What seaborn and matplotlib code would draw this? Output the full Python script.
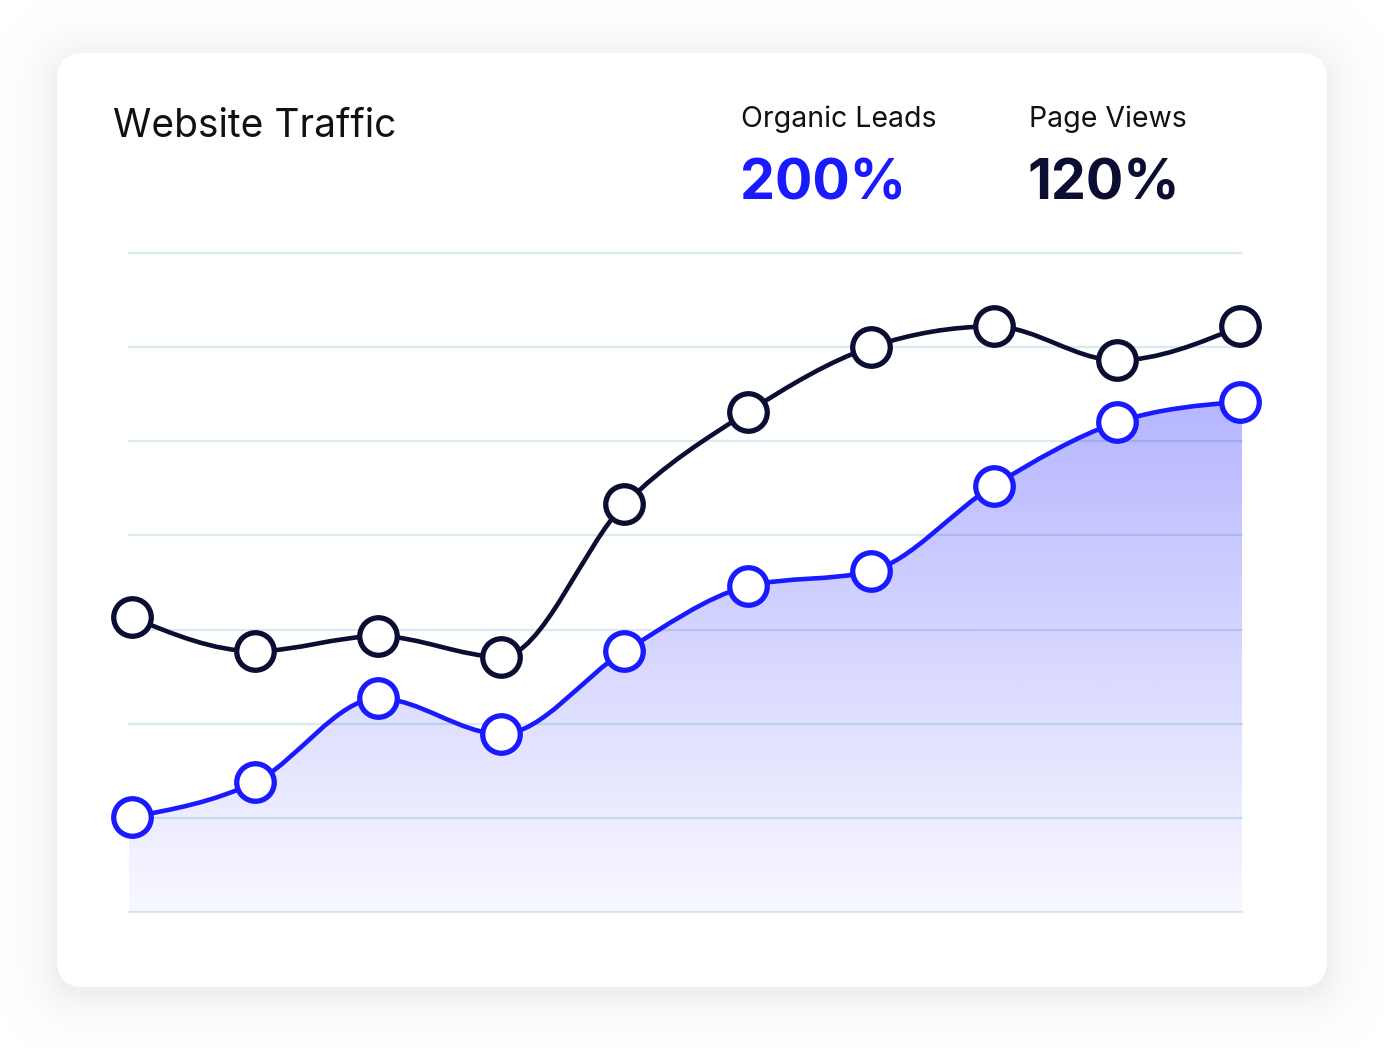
import numpy as np
import matplotlib.pyplot as plt
import seaborn as sns
from matplotlib.path import Path
from matplotlib.patches import PathPatch, FancyBboxPatch

# data (grid units, 0 = bottom gridline)
period = list(range(10))
page_views = [3.13, 2.77, 2.93, 2.71, 4.33, 5.31, 6.00, 6.22, 5.86, 6.22]
organic_leads = [1.01, 1.38, 2.27, 1.89, 2.77, 3.46, 3.62, 4.53, 5.20, 5.42]
grid_levels = list(range(8))

BLUE = "#1a1aff"
NAVY = "#0b0d33"
GRID = "#d8eaf0"


def monotone_path(x, y):
    """Cubic bezier path through the points, monotone-x style."""
    x = np.asarray(x, float)
    y = np.asarray(y, float)
    n = len(x)
    h = np.diff(x)
    s = np.diff(y) / h
    t = np.zeros(n)
    for i in range(1, n - 1):
        p = (s[i - 1] * h[i] + s[i] * h[i - 1]) / (h[i - 1] + h[i])
        t[i] = (np.sign(s[i - 1]) + np.sign(s[i])) * min(abs(s[i - 1]), abs(s[i]), 0.5 * abs(p))
    t[0] = (3 * s[0] - t[1]) / 2
    t[-1] = (3 * s[-1] - t[-2]) / 2
    verts = [(x[0], y[0])]
    codes = [Path.MOVETO]
    for i in range(n - 1):
        dx = h[i] / 3
        verts += [(x[i] + dx, y[i] + dx * t[i]), (x[i + 1] - dx, y[i + 1] - dx * t[i + 1]), (x[i + 1], y[i + 1])]
        codes += [Path.CURVE4] * 3
    return verts, codes


sns.set_style("white")
plt.rcParams['font.family'] = ['Inter', 'DejaVu Sans']

fig = plt.figure(figsize=(13.84, 10.48), dpi=100)

# background: card with soft shadow
bg = fig.add_axes([0, 0, 1, 1])
bg.set_xlim(0, 1384)
bg.set_ylim(1048, 0)
bg.axis('off')
yy, xx = np.mgrid[0:1048, 0:1384] + 0.5
cx, cy, hw, hh, r = 692, 526, 635, 467, 25
qx = np.abs(xx - cx) - (hw - r)
qy = np.abs(yy - cy) - (hh - r)
d = np.hypot(np.maximum(qx, 0), np.maximum(qy, 0)) + np.minimum(np.maximum(qx, qy), 0) - r
shadow = np.zeros((1048, 1384, 4))
shadow[..., :3] = 0.35
shadow[..., 3] = np.where(d > -20, 0.09 * np.exp(-np.clip(d, 0, None) / 22), 0.09)
bg.imshow(shadow, extent=(0, 1384, 1048, 0), zorder=0)
bg.add_patch(FancyBboxPatch((57, 53), 1270, 934, boxstyle="round,pad=0,rounding_size=26",
                            facecolor="white", edgecolor="none", zorder=1))

bg.text(113, 137, "Website Traffic", fontsize=28, color="#111111", va='baseline', zorder=2)
bg.text(741, 127, "Organic Leads", fontsize=20.5, color="#111111", va='baseline', zorder=2)
bg.text(1029, 127, "Page Views", fontsize=20.5, color="#111111", va='baseline', zorder=2)
bg.text(740, 199, "200%", fontsize=40, fontweight='bold', color=BLUE, va='baseline', zorder=2)
bg.text(1028, 199, "120%", fontsize=40, fontweight='bold', color=NAVY, va='baseline', zorder=2)

# chart area
xl, xr = -3 / 123.11, 9 + 2 / 123.11
ax = fig.add_axes([129 / 1384, (1048 - 912) / 1048, (1242 - 129) / 1384, (912 - 253) / 1048])
ax.set_xlim(xl, xr)
ax.set_ylim(0, 7)
ax.patch.set_alpha(0)
ax.axis('off')

for lv in grid_levels:
    ax.axhline(lv, color=GRID, lw=1.6, zorder=0, clip_on=False)

# gradient fill under organic leads
lv_verts, lv_codes = monotone_path(period, organic_leads)
fill_verts = [(xl, 0), (xl, organic_leads[0])] + [(period[0], organic_leads[0])] + lv_verts[1:] + \
             [(xr, organic_leads[-1]), (xr, 0), (xl, 0)]
fill_codes = [Path.MOVETO, Path.LINETO, Path.LINETO] + lv_codes[1:] + [Path.LINETO, Path.LINETO, Path.CLOSEPOLY]
fill_patch = PathPatch(Path(fill_verts, fill_codes), facecolor='none', edgecolor='none')
ax.add_patch(fill_patch)
top = max(organic_leads)
grad = np.zeros((256, 2, 4))
grad[..., :3] = np.array([26, 26, 255]) / 255
grad[..., 3] = np.linspace(0.32, 0.03, 256)[:, None]
img = ax.imshow(grad, extent=(xl, xr, 0, top), origin='upper', aspect='auto', zorder=1)
img.set_clip_path(fill_patch)

for vals, col in [(page_views, NAVY), (organic_leads, BLUE)]:
    v, c = monotone_path(period, vals)
    ax.add_patch(PathPatch(Path(v, c), facecolor='none', edgecolor=col, lw=3.3,
                           capstyle='round', zorder=2))
    sns.scatterplot(x=period, y=vals, s=730, color='white', edgecolor=col,
                    linewidth=3.8, zorder=3, clip_on=False, ax=ax)

ax.set_xlim(xl, xr)
ax.set_ylim(0, 7)
fig.savefig("out.png", dpi=100)
